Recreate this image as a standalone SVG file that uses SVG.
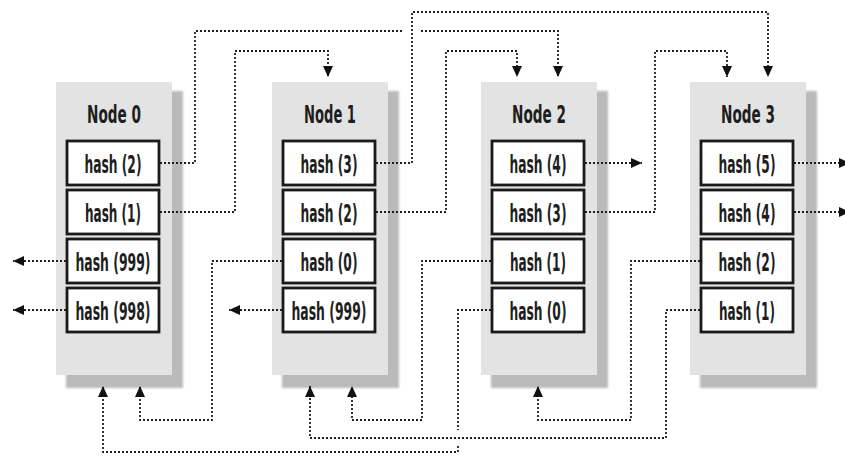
<svg xmlns="http://www.w3.org/2000/svg" width="845" height="456" viewBox="0 0 845 456">
<style>
.panel{fill:#e3e3e3}
.shadow{fill:#bababa}
.box{fill:#fff;stroke:#1a1a1a;stroke-width:2.8}
.title{font-family:"DejaVu Sans Condensed","DejaVu Sans","Liberation Sans",sans-serif;font-stretch:condensed;font-size:25px;font-weight:bold;fill:#1e1e1e;text-anchor:middle}
.lbl{font-family:"DejaVu Sans Condensed","DejaVu Sans","Liberation Sans",sans-serif;font-stretch:condensed;font-size:25px;font-weight:600;fill:#1e1e1e;text-anchor:middle}
.conn path{fill:none;stroke:#1e1e1e;stroke-width:1.8;stroke-dasharray:2 2}
</style>
<defs>
<filter id="blur" x="-10%" y="-10%" width="120%" height="120%"><feGaussianBlur stdDeviation="1.2"/></filter>
<marker id="arr" markerUnits="userSpaceOnUse" markerWidth="11" markerHeight="10" viewBox="0 0 11 10" refX="11" refY="5" orient="auto">
<path d="M0,0 L11,5 L0,10 z" fill="#111"/>
</marker>
</defs>
<rect width="845" height="456" fill="#fff"/>

<g id="node0">
<rect class="shadow" x="66" y="91" width="117" height="297" filter="url(#blur)"/>
<rect class="panel" x="56" y="82" width="116" height="293"/>
<text class="title" x="114" y="123" textLength="54" lengthAdjust="spacingAndGlyphs">Node 0</text>
<rect class="box" x="67" y="141" width="92" height="44"/>
<text class="lbl" x="113" y="173" textLength="57" lengthAdjust="spacingAndGlyphs">hash (2)</text>
<rect class="box" x="67" y="190" width="92" height="44"/>
<text class="lbl" x="113" y="222" textLength="56" lengthAdjust="spacingAndGlyphs">hash (1)</text>
<rect class="box" x="67" y="239" width="92" height="44"/>
<text class="lbl" x="113" y="271" textLength="75" lengthAdjust="spacingAndGlyphs">hash (999)</text>
<rect class="box" x="67" y="288" width="92" height="44"/>
<text class="lbl" x="113" y="320" textLength="75" lengthAdjust="spacingAndGlyphs">hash (998)</text>
</g>

<g id="node1">
<rect class="shadow" x="282" y="91" width="117" height="297" filter="url(#blur)"/>
<rect class="panel" x="272" y="82" width="116" height="293"/>
<text class="title" x="330" y="123" textLength="52" lengthAdjust="spacingAndGlyphs">Node 1</text>
<rect class="box" x="283" y="141" width="92" height="44"/>
<text class="lbl" x="329" y="173" textLength="57" lengthAdjust="spacingAndGlyphs">hash (3)</text>
<rect class="box" x="283" y="190" width="92" height="44"/>
<text class="lbl" x="329" y="222" textLength="57" lengthAdjust="spacingAndGlyphs">hash (2)</text>
<rect class="box" x="283" y="239" width="92" height="44"/>
<text class="lbl" x="329" y="271" textLength="57" lengthAdjust="spacingAndGlyphs">hash (0)</text>
<rect class="box" x="283" y="288" width="92" height="44"/>
<text class="lbl" x="329" y="320" textLength="75" lengthAdjust="spacingAndGlyphs">hash (999)</text>
</g>

<g id="node2">
<rect class="shadow" x="491" y="91" width="117" height="297" filter="url(#blur)"/>
<rect class="panel" x="481" y="82" width="116" height="293"/>
<text class="title" x="539" y="123" textLength="54" lengthAdjust="spacingAndGlyphs">Node 2</text>
<rect class="box" x="492" y="141" width="92" height="44"/>
<text class="lbl" x="538" y="173" textLength="57" lengthAdjust="spacingAndGlyphs">hash (4)</text>
<rect class="box" x="492" y="190" width="92" height="44"/>
<text class="lbl" x="538" y="222" textLength="57" lengthAdjust="spacingAndGlyphs">hash (3)</text>
<rect class="box" x="492" y="239" width="92" height="44"/>
<text class="lbl" x="538" y="271" textLength="56" lengthAdjust="spacingAndGlyphs">hash (1)</text>
<rect class="box" x="492" y="288" width="92" height="44"/>
<text class="lbl" x="538" y="320" textLength="57" lengthAdjust="spacingAndGlyphs">hash (0)</text>
</g>

<g id="node3">
<rect class="shadow" x="700" y="91" width="117" height="297" filter="url(#blur)"/>
<rect class="panel" x="690" y="82" width="116" height="293"/>
<text class="title" x="748" y="123" textLength="54" lengthAdjust="spacingAndGlyphs">Node 3</text>
<rect class="box" x="701" y="141" width="92" height="44"/>
<text class="lbl" x="747" y="173" textLength="57" lengthAdjust="spacingAndGlyphs">hash (5)</text>
<rect class="box" x="701" y="190" width="92" height="44"/>
<text class="lbl" x="747" y="222" textLength="57" lengthAdjust="spacingAndGlyphs">hash (4)</text>
<rect class="box" x="701" y="239" width="92" height="44"/>
<text class="lbl" x="747" y="271" textLength="57" lengthAdjust="spacingAndGlyphs">hash (2)</text>
<rect class="box" x="701" y="288" width="92" height="44"/>
<text class="lbl" x="747" y="320" textLength="56" lengthAdjust="spacingAndGlyphs">hash (1)</text>
</g>

<g id="connectors" class="conn">
<path d="M160,163 H195 V31 H403 M421,31 H558 V77" marker-end="url(#arr)"/>
<path d="M160,212 H235 V51 H328 V77" marker-end="url(#arr)"/>
<path d="M376,163 H412 V12 H768 V77" marker-end="url(#arr)"/>
<path d="M376,212 H446 V51 H517 V77" marker-end="url(#arr)"/>
<path d="M585,163 H642" marker-end="url(#arr)"/>
<path d="M585,212 H655 V51 H727 V77" marker-end="url(#arr)"/>
<path d="M794,163 H850" marker-end="url(#arr)"/>
<path d="M794,212 H850" marker-end="url(#arr)"/>
<path d="M66,261 H13" marker-end="url(#arr)"/>
<path d="M66,310 H13" marker-end="url(#arr)"/>
<path d="M282,261 H212 V420 H140 V386" marker-end="url(#arr)"/>
<path d="M282,310 H229" marker-end="url(#arr)"/>
<path d="M491,261 H422 V420 H352 V386" marker-end="url(#arr)"/>
<path d="M491,310 H458 V430 M458,446 V452 H103 V386" marker-end="url(#arr)"/>
<path d="M700,261 H631 V420 H538 V386" marker-end="url(#arr)"/>
<path d="M700,310 H666 V438 H310 V386" marker-end="url(#arr)"/>
</g>
</svg>
